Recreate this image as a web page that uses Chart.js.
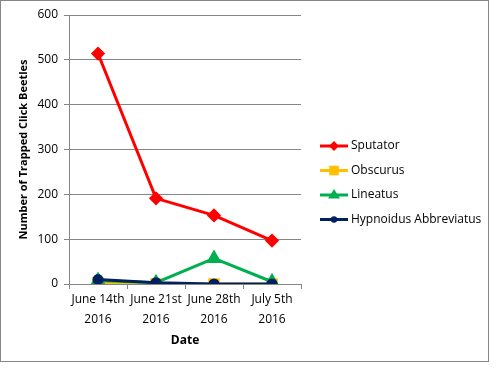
<!DOCTYPE html>
<html>
<head>
<meta charset="utf-8">
<style>
  html, body { margin: 0; padding: 0; background: #fff; }
  #wrap { position: relative; width: 496px; height: 368px; }
</style>
<script src="https://cdn.jsdelivr.net/npm/chart.js@4/dist/chart.umd.min.js"></script>
</head>
<body>
<div id="wrap"><canvas id="c" width="496" height="368"></canvas></div>
<script>
// chart values
const dates = [['June 14th', '2016'], ['June 21st', '2016'], ['June 28th', '2016'], ['July 5th', '2016']];
const sputator = [514, 191, 153, 97];
const obscurus = [2, 0, 0, 0];
const lineatus = [8, 3, 57, 5];
const hypnoidus = [10, 3, 0, 0];
const seriesNames = ['Sputator', 'Obscurus', 'Lineatus', 'Hypnoidus Abbreviatus'];
const yTicks = [0, 100, 200, 300, 400, 500, 600];

const FONT = 'Open Sans, sans-serif';
const GRID = '#868686';

function series(label, data, color, style, radius, order){
  return {
    label: label, data: data,
    borderColor: color, backgroundColor: color,
    pointBackgroundColor: color, pointBorderColor: color,
    pointStyle: style, pointRadius: radius, pointHoverRadius: radius,
    borderWidth: 3, tension: 0, order: order
  };
}

// frame + white background
const framePlugin = {
  id: 'frame',
  beforeDraw(chart){
    const ctx = chart.ctx;
    ctx.save();
    ctx.fillStyle = '#fff';
    ctx.fillRect(0, 0, chart.width, chart.height);
    ctx.strokeStyle = GRID;
    ctx.lineWidth = 1;
    ctx.strokeRect(0.5, 0.5, 488, 361);
    ctx.restore();
  }
};

// Excel style legend: short line with the marker in the middle
const legendPlugin = {
  id: 'xlLegend',
  afterDraw(chart){
    const ctx = chart.ctx;
    const x0 = 320, x1 = 348, top = 146, step = 24.5;
    ctx.save();
    chart.data.datasets.forEach((ds, i) => {
      const y = top + i * step;
      ctx.strokeStyle = ds.borderColor;
      ctx.lineWidth = 3;
      ctx.beginPath();
      ctx.moveTo(x0, y); ctx.lineTo(x1, y);
      ctx.stroke();
      ctx.fillStyle = ds.borderColor;
      const cx = (x0 + x1) / 2, r = ds.pointRadius;
      ctx.beginPath();
      if (ds.pointStyle === 'rectRot') {
        ctx.moveTo(cx, y - r); ctx.lineTo(cx + r, y); ctx.lineTo(cx, y + r); ctx.lineTo(cx - r, y);
      } else if (ds.pointStyle === 'rect') {
        ctx.rect(cx - r * 0.8, y - r * 0.8, r * 1.6, r * 1.6);
      } else if (ds.pointStyle === 'triangle') {
        ctx.moveTo(cx, y - r); ctx.lineTo(cx + r, y + r * 0.6); ctx.lineTo(cx - r, y + r * 0.6);
      } else {
        ctx.arc(cx, y, r * 0.8, 0, Math.PI * 2);
      }
      ctx.closePath();
      ctx.fill();
      ctx.fillStyle = '#000';
      ctx.font = '12px ' + FONT;
      ctx.textBaseline = 'middle';
      ctx.fillText(ds.label, x1 + 3, y);
    });
    ctx.restore();
  }
};

new Chart(document.getElementById('c'), {
  type: 'line',
  data: {
    labels: dates,
    datasets: [
      series(seriesNames[0], sputator, '#FF0000', 'rectRot', 5, 3),
      series(seriesNames[1], obscurus, '#FFC000', 'rect', 6, 2),
      series(seriesNames[2], lineatus, '#00B050', 'triangle', 6, 1),
      series(seriesNames[3], hypnoidus, '#002060', 'circle', 4, 0)
    ]
  },
  options: {
    responsive: false,
    animation: false,
    layout: { padding: { left: 17, top: 15, right: 195, bottom: 20 } },
    plugins: { legend: { display: false }, tooltip: { enabled: false } },
    scales: {
      x: {
        offset: true,
        grid: { offset: true, drawOnChartArea: false, color: GRID, tickLength: 5 },
        border: { color: GRID },
        ticks: { color: '#000', font: { family: FONT, size: 12, lineHeight: 1.65 }, maxRotation: 0, autoSkip: false, padding: 1 },
        title: { display: true, text: 'Date', color: '#000', font: { family: FONT, size: 12, weight: 'bold' }, padding: { top: 2, bottom: 0 } },
        afterFit(scale){ scale.height = 368 - 284 - 20; }
      },
      y: {
        min: 0, max: 600,
        afterBuildTicks(scale){ scale.ticks = yTicks.map(v => ({ value: v })); },
        grid: { color: GRID, tickLength: 5 },
        border: { color: GRID },
        ticks: { color: '#000', font: { family: FONT, size: 12 }, padding: 6 },
        title: { display: true, text: 'Number of Trapped Click Beetles', color: '#000', font: { family: FONT, size: 11, weight: 'bold' }, padding: 0 },
        afterFit(scale){ scale.width = 69 - 17; }
      }
    }
  },
  plugins: [framePlugin, legendPlugin]
});
</script>
</body>
</html>
